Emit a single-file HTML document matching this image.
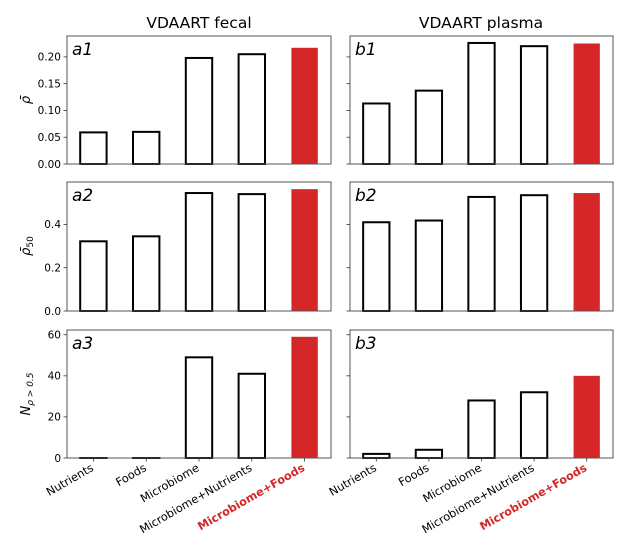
<!DOCTYPE html>
<html><head><meta charset="utf-8"><style>
body{margin:0;background:#fff}
svg{display:block;font-family:"DejaVu Sans","Liberation Sans",sans-serif}
</style></head><body>
<svg id="c" width="635" height="543" viewBox="0 0 635 543" xmlns="http://www.w3.org/2000/svg"></svg>
<script>
const categories = ["Nutrients","Foods","Microbiome","Microbiome+Nutrients","Microbiome+Foods"];
const a1 = [0.059,0.060,0.198,0.205,0.217];
const b1 = [0.113,0.137,0.226,0.220,0.225];
const a2 = [0.322,0.345,0.545,0.540,0.563];
const b2 = [0.410,0.418,0.527,0.535,0.545];
const a3 = [0,0,49,41,59];
const b3 = [2,4,28,32,40];
const ticks1 = [0,0.05,0.10,0.15,0.20];
const tickLabels1 = ["0.00","0.05","0.10","0.15","0.20"];
const ticks2 = [0,0.2,0.4];
const tickLabels2 = ["0.0","0.2","0.4"];
const ticks3 = [0,20,40,60];
const tickLabels3 = ["0","20","40","60"];

const NS="http://www.w3.org/2000/svg";
const svg=document.getElementById('c');
function mk(tag,attrs,parent){const e=document.createElementNS(NS,tag);for(const k in attrs)e.setAttribute(k,attrs[k]);(parent||svg).appendChild(e);return e;}

const cols=[{x0:67,x1:331},{x0:350,x1:613}];
const rows=[{y0:36,y1:164,max:0.239,ticks:ticks1,labels:tickLabels1,data:[a1,b1],tag:["a1","b1"]},
            {y0:182,y1:311,max:0.596,ticks:ticks2,labels:tickLabels2,data:[a2,b2],tag:["a2","b2"]},
            {y0:330,y1:458,max:62.3,ticks:ticks3,labels:tickLabels3,data:[a3,b3],tag:["a3","b3"]}];

rows.forEach((r,ri)=>{
  cols.forEach((c,ci)=>{
    const g=mk('g',{});
    
    
    const sx=i=>c.x0+(i+0.5)*(c.x1-c.x0)/5;
    const bw=0.5*(c.x1-c.x0)/5;
    const sy=v=>r.y1-v/r.max*(r.y1-r.y0);
    const vals=r.data[ci];
    vals.forEach((v,i)=>{
      const red=i===4;
      const y=sy(v);
      const b=mk('rect',{x:sx(i)-bw/2,y:y,width:bw,height:Math.max(r.y1-y,0.01),fill:red?'#d62728':'#fff',stroke:red?'none':'#000','stroke-width':red?0:2},g);
      
      
    });
    const f=mk('rect',{x:c.x0,y:r.y0,width:c.x1-c.x0,height:r.y1-r.y0,fill:'none',stroke:'#555','stroke-width':1},g);
    
    
    r.ticks.forEach((t,ti)=>{
      mk('line',{x1:c.x0-3.5,x2:c.x0,y1:sy(t),y2:sy(t),stroke:'#333','stroke-width':0.8},g);
      if(ci===0){
        const tl=mk('text',{x:c.x0-6,y:sy(t)+3.8,'text-anchor':'end','font-size':10.5,fill:'#000'},g);
        tl.textContent=r.labels[ti];
        
        
      }
    });
    const pl=mk('text',{x:c.x0+5,y:r.y0+19,'font-size':17,'font-style':'italic',fill:'#000'},g);
    pl.textContent=r.tag[ci];
    
    
    if(ri===2){
      categories.forEach((cat,i)=>{
        mk('line',{x1:sx(i),x2:sx(i),y1:r.y1,y2:r.y1+3.5,stroke:'#333','stroke-width':0.8},g);
        const x=sx(i)+1,y=r.y1+12;
        const t=mk('text',{x:x,y:y,'text-anchor':'end','font-size':11.3,transform:`rotate(-30 ${x} ${y})`,fill:i===4?'#d62728':'#000','font-weight':i===4?'bold':'normal'},g);
        t.textContent=cat;
        
        
      });
    }
  });
});
const titles=[["VDAART fecal",199],["VDAART plasma",481]];
titles.forEach(([s,x])=>{
  const t=mk('text',{x:x,y:28,'text-anchor':'middle','font-size':15.5,fill:'#000'});
  t.textContent=s;
  
  
});
function ylab(y,html,name){
  const t=mk('text',{x:0,y:0,'text-anchor':'middle','font-size':13,transform:`translate(30 ${y}) rotate(-90)`,'font-style':'italic'});
  t.innerHTML=html;
  
  
}
ylab(100,'ρ̄','y-axis-title-rho');
ylab(246,'ρ̄<tspan font-size="9" dy="3" font-style="normal">50</tspan>','y-axis-title-rho50');
ylab(394,'N<tspan font-size="9" dy="3">ρ &gt; 0.5</tspan>','y-axis-title-n');
</script>
</body></html>
